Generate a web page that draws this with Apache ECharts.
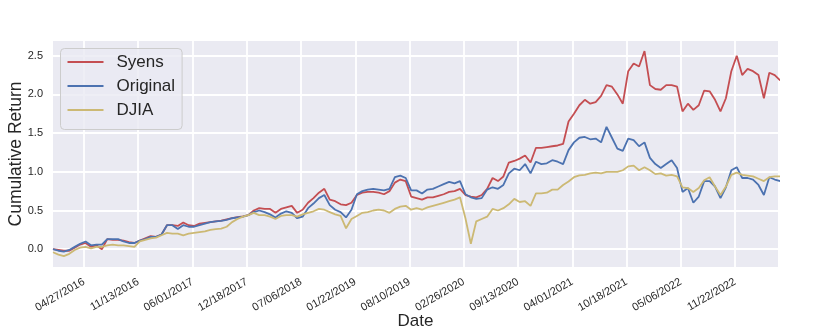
<!DOCTYPE html>
<html>
<head>
<meta charset="UTF-8">
<title>Cumulative Return</title>
<script src="https://cdn.jsdelivr.net/npm/echarts@6/dist/echarts.min.js"></script>
<style>
  html, body { margin: 0; padding: 0; background: #fff; }
  #main { width: 830px; height: 335px; }
</style>
</head>
<body>
<div id="main"></div>
<script>
// samples, one every 20 days starting 2016-01-04
const startDate = [2016, 1, 4];
const stepDays = 20;
const endDay = 2672;

const tickLabels = ['04/27/2016', '11/13/2016', '06/01/2017', '12/18/2017', '07/06/2018',
  '01/22/2019', '08/10/2019', '02/26/2020', '09/13/2020', '04/01/2021',
  '10/18/2021', '05/06/2022', '11/22/2022'];
const yTicks = [0, 0.5, 1, 1.5, 2, 2.5];

const syens = [
  0.00, -0.01, -0.02, -0.02, 0.02, 0.06, 0.08, 0.03, 0.05, 0.00,
  0.13, 0.12, 0.12, 0.11, 0.09, 0.08, 0.11, 0.14, 0.17, 0.16,
  0.19, 0.31, 0.31, 0.30, 0.345, 0.31, 0.30, 0.33, 0.34, 0.35,
  0.36, 0.37, 0.385, 0.40, 0.415, 0.425, 0.44, 0.50, 0.53, 0.52,
  0.52, 0.47, 0.52, 0.54, 0.56, 0.47, 0.51, 0.60, 0.66, 0.73,
  0.78, 0.64, 0.62, 0.58, 0.57, 0.60, 0.70, 0.73, 0.74, 0.74,
  0.73, 0.71, 0.75, 0.86, 0.90, 0.88, 0.68, 0.66, 0.64, 0.67,
  0.67, 0.69, 0.71, 0.74, 0.75, 0.78, 0.70, 0.68, 0.67, 0.70,
  0.78, 0.92, 0.88, 0.94, 1.12, 1.14, 1.17, 1.21, 1.12, 1.31,
  1.31, 1.32, 1.33, 1.34, 1.36, 1.65, 1.75, 1.86, 1.93, 1.88,
  1.90, 1.98, 2.12, 2.10, 2.00, 1.88, 2.30, 2.40, 2.36, 2.56,
  2.12, 2.07, 2.06, 2.12, 2.12, 2.10, 1.78, 1.88, 1.80, 1.86,
  2.05, 2.04, 1.93, 1.78, 1.95, 2.30, 2.50, 2.25, 2.33, 2.30,
  2.25, 1.95, 2.28, 2.25, 2.18
];
const original = [
  0.00, -0.02, -0.03, -0.01, 0.03, 0.07, 0.10, 0.05, 0.06, 0.06,
  0.13, 0.13, 0.13, 0.10, 0.08, 0.08, 0.11, 0.13, 0.16, 0.16,
  0.19, 0.31, 0.31, 0.26, 0.31, 0.29, 0.29, 0.31, 0.33, 0.35,
  0.36, 0.365, 0.38, 0.40, 0.41, 0.42, 0.44, 0.48, 0.50, 0.48,
  0.45, 0.41, 0.46, 0.49, 0.47, 0.40, 0.42, 0.53, 0.59, 0.66,
  0.70, 0.57, 0.51, 0.48, 0.41, 0.51, 0.71, 0.75, 0.77, 0.78,
  0.77, 0.76, 0.78, 0.93, 0.95, 0.92, 0.76, 0.76, 0.72, 0.77,
  0.78, 0.81, 0.84, 0.87, 0.85, 0.88, 0.71, 0.67, 0.65, 0.66,
  0.77, 0.80, 0.78, 0.83, 0.98, 1.04, 1.02, 1.10, 0.98, 1.13,
  1.10, 1.11, 1.15, 1.13, 1.10, 1.28, 1.38, 1.44, 1.45, 1.42,
  1.43, 1.38, 1.58, 1.44, 1.30, 1.27, 1.43, 1.41, 1.33, 1.38,
  1.18, 1.10, 1.05, 1.10, 1.15, 1.05, 0.74, 0.79, 0.60, 0.68,
  0.88, 0.88, 0.81, 0.66, 0.80, 1.02, 1.06, 0.92, 0.92, 0.90,
  0.83, 0.70, 0.93, 0.90, 0.88
];
const djia = [
  -0.04, -0.07, -0.09, -0.06, -0.01, 0.02, 0.03, 0.01, 0.03, 0.03,
  0.05, 0.06, 0.05, 0.05, 0.04, 0.03, 0.10, 0.12, 0.14, 0.15,
  0.18, 0.21, 0.20, 0.20, 0.18, 0.20, 0.21, 0.22, 0.23, 0.25,
  0.26, 0.265, 0.29, 0.35, 0.39, 0.42, 0.44, 0.47, 0.44, 0.44,
  0.42, 0.39, 0.43, 0.44, 0.44, 0.42, 0.45, 0.47, 0.49, 0.52,
  0.51, 0.48, 0.45, 0.43, 0.27, 0.39, 0.43, 0.47, 0.48, 0.50,
  0.51, 0.50, 0.47, 0.52, 0.55, 0.56, 0.51, 0.53, 0.51, 0.54,
  0.56, 0.58, 0.60, 0.62, 0.64, 0.67, 0.40, 0.07, 0.36, 0.39,
  0.42, 0.52, 0.50, 0.53, 0.58, 0.65, 0.61, 0.62, 0.56, 0.72,
  0.72, 0.73, 0.77, 0.77, 0.83, 0.875, 0.93, 0.955, 0.96, 0.98,
  0.99, 0.98, 1.00, 1.00, 1.00, 1.02, 1.07, 1.08, 1.02, 1.06,
  1.02, 0.97, 0.98, 0.95, 0.96, 0.94, 0.80, 0.79, 0.74, 0.79,
  0.89, 0.93, 0.81, 0.70, 0.81, 0.96, 0.99, 0.96, 0.95, 0.94,
  0.91, 0.88, 0.93, 0.94, 0.94
];

const dayMs = 86400000;
const t0 = Date.UTC(startDate[0], startDate[1] - 1, startDate[2]);
function toDay(mdy) {
  const p = mdy.split('/').map(Number);
  return Math.round((Date.UTC(p[2], p[0] - 1, p[1]) - t0) / dayMs);
}
const tickDays = tickLabels.map(toDay);
const labelOf = {};
tickDays.forEach((d, i) => { labelOf[d] = tickLabels[i]; });

function pairs(vals) {
  return vals.map((v, i) => [i * stepDays, v]);
}

const textColor = '#262626';
const font = '"Liberation Sans", Arial, sans-serif';
const lineW = 1.8;

const chart = echarts.init(document.getElementById('main'), null, { renderer: 'canvas' });
chart.setOption({
  animation: false,
  backgroundColor: '#ffffff',
  textStyle: { fontFamily: font },
  grid: {
    left: 53, right: 52, top: 41, bottom: 68,
    outerBoundsMode: 'none',
    show: true, backgroundColor: '#EAEAF2', borderWidth: 0
  },
  legend: {
    orient: 'vertical',
    left: 60.5, top: 48.5,
    padding: [5, 7, 11, 6],
    itemWidth: 36, itemHeight: 18, itemGap: 7,
    itemStyle: { opacity: 0 },
    backgroundColor: 'rgba(234,234,242,0.8)',
    borderColor: '#cccccc', borderWidth: 1, borderRadius: 4,
    textStyle: { fontSize: 17, color: textColor, fontFamily: font, padding: [0, 0, 0, 8] },
    data: ['Syens', 'Original', 'DJIA']
  },
  xAxis: {
    type: 'value',
    min: 0, max: endDay,
    name: 'Date', nameLocation: 'middle', nameGap: 46, nameMoveOverlap: false,
    nameTextStyle: { fontSize: 17, color: textColor, fontFamily: font },
    axisLine: { show: false },
    axisTick: { show: false, customValues: tickDays },
    axisLabel: {
      customValues: tickDays,
      formatter: v => labelOf[v] || '',
      rotate: 30, margin: 14,
      fontSize: 11, color: textColor, fontFamily: font
    },
    splitLine: { show: true, lineStyle: { color: '#ffffff', width: lineW } }
  },
  yAxis: {
    type: 'value',
    min: -0.23, max: 2.69,
    name: 'Cumulative Return', nameLocation: 'middle', nameGap: 28, nameMoveOverlap: false,
    nameTextStyle: { fontSize: 17.5, color: textColor, fontFamily: font },
    axisLine: { show: false },
    axisTick: { show: false, customValues: yTicks },
    axisLabel: {
      customValues: yTicks,
      formatter: v => v.toFixed(1),
      margin: 10, fontSize: 11, color: textColor, fontFamily: font
    },
    splitLine: { show: true, lineStyle: { color: '#ffffff', width: lineW } }
  },
  series: [
    { name: 'Syens', type: 'line', data: pairs(syens), symbol: 'none',
      lineStyle: { color: '#C44E52', width: lineW }, itemStyle: { color: '#C44E52' } },
    { name: 'Original', type: 'line', data: pairs(original), symbol: 'none',
      lineStyle: { color: '#4C72B0', width: lineW }, itemStyle: { color: '#4C72B0' } },
    { name: 'DJIA', type: 'line', data: pairs(djia), symbol: 'none',
      lineStyle: { color: '#CCB974', width: lineW }, itemStyle: { color: '#CCB974' } }
  ]
});
</script>
</body>
</html>
